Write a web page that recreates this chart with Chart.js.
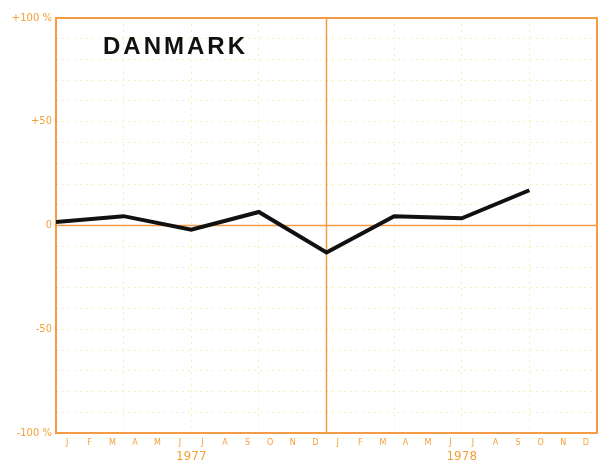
<!DOCTYPE html>
<html>
<head>
<meta charset="UTF-8">
<title>Danmark</title>
<script src="https://cdn.jsdelivr.net/npm/chart.js"></script>
<style>
  html, body { margin: 0; padding: 0; background: #ffffff; }
  #wrap { width: 599px; height: 467px; }
</style>
</head>
<body>
<div id="wrap"><canvas id="danmarkChart" width="599" height="467"></canvas></div>
<script>
// data
const monthLetters = ['J', 'F', 'M', 'A', 'M', 'J', 'J', 'A', 'S', 'O', 'N', 'D'];
const years = ['1977', '1978'];
const quarterMonths = [0, 3, 6, 9, 12, 15, 18, 21];   // month index from Jan 1977
const danmarkValues = [1.7, 4.5, -2, 6.5, -13, 4.5, 3.5, 17];
const yTickLabels = { 100: '+100 %', 50: '+50', 0: '0', '-50': '-50', '-100': '-100 %' };

const orange = '#f2a03a';
const frameColor = '#f39b45';
const faint = 'rgba(245, 215, 110, 0.45)';

const points = quarterMonths.map((m, i) => ({ x: m, y: danmarkValues[i] }));

// frame, zero line, year divider and the title
const framePlugin = {
  id: 'frame',
  beforeDatasetsDraw(chart) {
    const { ctx, chartArea: a, scales } = chart;
    ctx.save();
    ctx.strokeStyle = frameColor;
    ctx.lineWidth = 1.5;
    const y0 = scales.y.getPixelForValue(0);
    const xm = scales.x.getPixelForValue(12);
    ctx.beginPath();
    ctx.moveTo(a.left, y0); ctx.lineTo(a.right, y0);
    ctx.moveTo(xm, a.top); ctx.lineTo(xm, a.bottom);
    ctx.stroke();
    ctx.lineWidth = 2;
    ctx.strokeRect(a.left, a.top, a.right - a.left, a.bottom - a.top);
    ctx.restore();
  },
  afterDraw(chart) {
    const { ctx, chartArea: a } = chart;
    ctx.save();
    ctx.fillStyle = '#111';
    ctx.font = 'bold 24px "Liberation Sans", Arial, sans-serif';
    if ('letterSpacing' in ctx) ctx.letterSpacing = '3px';
    ctx.textBaseline = 'middle';
    ctx.fillText('DANMARK', a.left + 47, 47);
    ctx.restore();
  }
};

new Chart(document.getElementById('danmarkChart'), {
  type: 'line',
  data: {
    datasets: [{
      label: 'Danmark',
      data: points,
      borderColor: '#111111',
      borderWidth: 4,
      pointRadius: 0,
      tension: 0,
      borderJoinStyle: 'miter'
    }]
  },
  options: {
    responsive: false,
    animation: false,
    layout: { padding: { top: 18, right: 2, left: 0, bottom: 0 } },
    plugins: { legend: { display: false }, tooltip: { enabled: false } },
    scales: {
      x: {
        type: 'linear', min: 0, max: 24, position: 'bottom',
        afterBuildTicks: s => { s.ticks = [3, 6, 9, 15, 18, 21].map(v => ({ value: v })); },
        ticks: { display: false },
        grid: { color: faint, lineWidth: 1, drawTicks: false },
        border: { display: false, dash: [2, 4] }
      },
      xm: {
        type: 'linear', min: 0, max: 24, position: 'bottom',
        afterBuildTicks: s => { s.ticks = Array.from({ length: 24 }, (_, i) => ({ value: i + 0.5 })); },
        afterFit: s => { s.height = 14; },
        ticks: {
          autoSkip: false, maxRotation: 0, padding: 5, color: orange,
          font: { family: 'DejaVu Sans', size: 8 },
          callback: v => monthLetters[Math.floor(v) % 12]
        },
        grid: { display: false, drawTicks: false },
        border: { display: false }
      },
      xy: {
        type: 'linear', min: 0, max: 24, position: 'bottom',
        afterBuildTicks: s => { s.ticks = [6, 18].map(v => ({ value: v })); },
        afterFit: s => { s.height = 20; },
        ticks: {
          autoSkip: false, maxRotation: 0, padding: 3, color: orange,
          font: { family: 'DejaVu Sans', size: 12 },
          callback: v => years[v === 6 ? 0 : 1]
        },
        grid: { display: false, drawTicks: false },
        border: { display: false }
      },
      y: {
        min: -100, max: 100,
        afterBuildTicks: s => {
          const t = [];
          for (let v = -100; v <= 100; v += 10) t.push({ value: v });
          s.ticks = t;
        },
        afterFit: s => { s.width = 56; },
        ticks: {
          autoSkip: false, padding: 4, color: orange,
          font: { family: 'DejaVu Sans', size: 10 },
          callback: v => yTickLabels[v] !== undefined ? yTickLabels[v] : ''
        },
        grid: {
          color: c => (c.tick && (c.tick.value === 0 || Math.abs(c.tick.value) === 100)) ? 'rgba(0,0,0,0)' : faint,
          lineWidth: 1, drawTicks: false
        },
        border: { display: false, dash: [2, 4] }
      }
    }
  },
  plugins: [framePlugin]
});
</script>
</body>
</html>
